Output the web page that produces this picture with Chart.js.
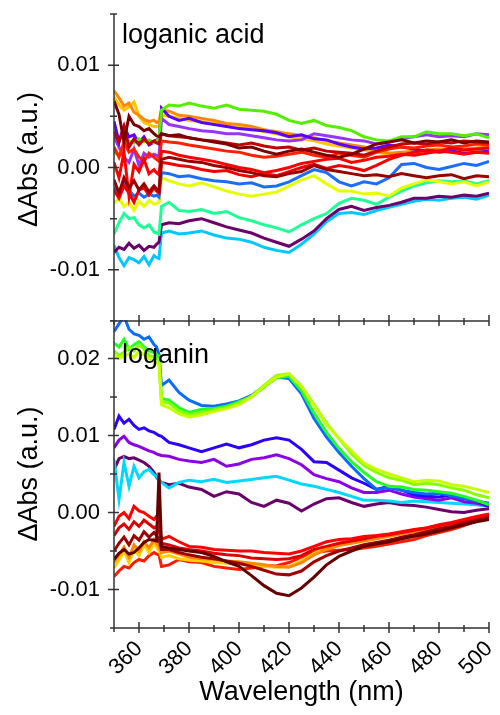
<!DOCTYPE html>
<html>
<head>
<meta charset="utf-8">
<script src="https://cdn.jsdelivr.net/npm/chart.js@4.4.1/dist/chart.umd.min.js"></script>
<style>
  html, body { margin: 0; padding: 0; background: #fff; }
  #wrap { position: relative; width: 500px; height: 715px; }
  #topChart { position: absolute; left: 0; top: 0; }
  #bottomChart { position: absolute; left: 0; top: 320px; }
</style>
</head>
<body>
<div id="wrap">
  <canvas id="bottomChart" width="500" height="395"></canvas>
  <canvas id="topChart" width="500" height="330"></canvas>
</div>
<script>
// wavelength grid (nm); values below are in units of 0.001 (mAbs)
const wavelength = [350,352,354,356,358,360,362,364,366, 367,368,369, 372,376,380,
  385,390,395,400,405,410,415,420,425,430,435,440,445,450,455,460,465,470,475,480,485,490,495,500];

const xTicks = [350,360,370,380,390,400,410,420,430,440,450,460,470,480,490,500];
const xLabels = [360,380,400,420,440,460,480,500];
const yTicksTop = [-15,-10,-5,0,5,10,15];
const yLabelsTop = [-10,0,10];
const yTicksBottom = [-15,-10,-5,0,5,10,15,20,25];
const yLabelsBottom = [-10,0,10,20];

// ---- loganic acid (top panel) ----
const maroonTop = [6.5,5.2,2.5,5.0,4.2,4.0,3.6,3.8,3.3, 3.1,3.0,3.3, 3.1,3.2,2.9,
  2.7,2.5,2.3,1.9,2.0,1.6,1.3,1.6,1.8,1.5,1.2,1.0,1.3,1.8,2.3,2.5,2.7,2.4,2.6,2.5,2.7,2.4,2.6,2.5];
const maroon2Top = [-1.2,-2.5,-1.0,-2.0,-1.3,-2.2,-1.6,-2.4,-1.8, -2.1,-2.3,0.8, 1.0,0.8,0.6,
  0.5,0.2,0.0,-0.3,-0.5,-0.8,-0.9,-0.6,-0.4,0.2,-0.2,-0.4,-0.6,-0.8,-0.7,-0.9,-0.6,-0.8,-1.0,-0.8,-0.7,-1.1,-0.8,-0.9];
const dkredTop = [3.5,2.5,4.0,2.0,2.8,2.2,2.8,2.3,2.6, 2.4,2.3,3.3, 3.1,3.0,2.9,
  2.7,2.6,2.4,2.2,2.4,2.1,1.9,2.0,1.7,1.9,1.6,1.5,1.4,1.2,1.6,2.0,2.3,2.4,2.3,2.5,2.4,2.6,2.5,2.4];
const red1Top = [0.5,-1.0,1.5,-2.8,0.3,-0.4,0.8,-0.6,-0.2, -0.5,-0.7,1.6, 1.5,1.2,1.0,
  0.8,0.6,0.3,0.0,-0.2,-0.5,-0.3,0.0,0.4,0.6,0.8,0.9,0.5,0.7,1.0,1.1,1.3,1.2,1.4,1.6,1.5,1.3,1.5,1.4];
const red2Top = [-2.2,-3.0,-1.8,-2.5,-3.4,-2.2,-2.0,-2.7,-2.0, -2.3,-2.5,0.5, 0.4,0.2,0.1,
  -0.2,-0.4,-0.3,-0.7,-0.9,-0.6,-0.8,-0.4,0.0,0.3,-0.1,0.2,0.0,-0.3,0.2,0.8,1.2,1.5,1.7,1.6,1.9,1.7,1.8,1.9];
const red3Top = [2.0,1.0,2.5,1.5,1.8,1.0,0.6,1.4,1.0, 0.8,0.6,2.6, 2.5,2.4,2.2,
  2.0,1.8,1.6,1.5,1.2,1.0,1.1,1.3,1.5,1.2,1.0,1.4,1.2,1.0,1.5,1.8,2.0,1.9,2.1,2.2,2.0,2.1,2.3,2.2];
const greenTop = [1.5,1.2,2.2,2.6,2.4,2.8,2.5,2.7,2.4, 2.6,2.8,5.6, 6.1,6.0,6.3,
  6.0,5.8,6.1,5.7,5.6,5.5,5.2,4.6,4.3,4.6,4.1,3.9,3.6,3.0,2.7,2.6,3.0,3.0,3.5,3.3,3.3,3.1,3.3,2.9];
const violetTop = [4.5,2.5,4.0,3.0,3.2,2.4,3.0,2.2,2.5, 2.7,2.6,5.8, 5.0,4.6,4.8,
  4.4,4.2,4.0,3.8,3.7,3.6,3.4,3.0,3.2,2.8,2.7,2.3,2.0,1.8,1.9,2.2,2.0,1.8,1.6,1.5,1.6,1.4,1.5,1.6];
const purpleTop = [3.0,2.0,1.0,0.5,1.8,0.2,1.4,1.0,1.3, 1.2,1.0,4.8, 4.2,4.0,3.8,
  3.6,3.5,3.3,3.3,3.1,2.9,2.7,2.6,2.7,3.3,3.1,2.9,2.7,2.6,2.3,2.5,2.8,3.0,3.2,3.0,3.1,3.0,3.3,3.2];
const orangeTop = [7.5,6.8,6.0,6.3,5.4,5.1,4.7,4.5,4.6, 4.4,4.5,5.6, 5.5,5.1,5.0,
  4.8,4.6,4.3,4.2,4.0,3.7,3.5,3.3,3.1,2.9,2.6,2.4,2.2,2.0,1.6,1.4,1.5,1.6,1.7,1.8,1.7,1.8,1.9,2.0];
const goldTop = [6.9,6.1,5.6,5.9,6.4,5.0,4.4,4.2,4.0, 4.0,4.1,5.1, 5.0,4.8,4.6,
  4.5,4.3,4.1,3.9,3.8,3.5,3.3,3.0,2.8,2.6,2.3,2.1,1.9,1.7,1.5,1.3,1.4,1.5,1.5,1.6,1.5,1.7,1.7,1.8];
const blueTop = [-2.0,-2.4,-1.5,-2.2,-2.8,-2.5,-2.9,-2.6,-2.8, -2.7,-2.9,-0.5, -0.6,-0.9,-0.8,
  -1.1,-1.3,-1.4,-1.6,-1.5,-1.9,-1.8,-1.4,-0.8,-0.2,-0.5,-1.4,-1.8,-1.4,-1.6,-1.0,0.3,0.4,0.0,-0.2,0.1,0.4,0.2,0.6];
const yellowTop = [-3.5,-3.0,-3.8,-3.4,-4.2,-3.3,-3.8,-3.2,-3.6, -3.5,-3.4,-1.0, -1.3,-1.6,-1.8,
  -1.5,-1.9,-2.3,-2.6,-2.8,-2.6,-2.4,-1.8,-1.2,-0.8,-1.6,-2.3,-2.3,-2.6,-2.5,-2.8,-2.0,-1.6,-1.2,-1.4,-1.6,-1.4,-1.8,-1.4];
const springTop = [-6.5,-5.4,-4.5,-5.0,-4.9,-5.6,-5.9,-5.6,-6.3, -6.4,-6.5,-3.8, -3.4,-4.2,-4.3,
  -4.1,-4.5,-4.3,-4.9,-5.2,-5.6,-5.9,-6.3,-5.6,-5.0,-4.5,-3.5,-3.0,-3.2,-3.6,-2.9,-2.3,-1.8,-1.5,-1.3,-1.4,-1.3,-1.6,-1.3];
const dkpurpleTop = [-8.3,-7.8,-8.0,-7.4,-7.9,-7.6,-8.1,-7.7,-7.8, -7.5,-7.3,-5.6, -5.4,-5.5,-5.2,
  -5.0,-5.4,-5.8,-6.1,-6.4,-6.9,-7.3,-7.7,-7.0,-6.2,-5.0,-4.1,-3.8,-4.2,-3.9,-3.7,-3.4,-3.0,-3.0,-2.8,-2.9,-2.7,-2.8,-2.5];
const skyTop = [-7.6,-8.8,-9.6,-8.8,-9.0,-9.3,-8.7,-9.5,-8.6, -8.8,-8.9,-6.4, -6.2,-6.5,-6.4,
  -6.2,-6.6,-6.9,-7.0,-7.3,-7.8,-8.1,-8.3,-7.5,-6.5,-5.3,-4.5,-4.4,-4.6,-4.2,-3.9,-3.6,-3.3,-3.1,-3.2,-3.0,-2.9,-3.1,-2.7];

// ---- loganin (bottom panel) ----
const maroonBot = [-6.1,-5.3,-4.8,-5.4,-5.2,-4.6,-3.9,-3.5,-3.6, -3.7,5.2,-4.4, -4.6,-4.8,-5.0,
  -5.2,-5.7,-6.4,-7.0,-8.2,-9.5,-10.5,-10.8,-9.8,-8.4,-6.8,-5.7,-5.0,-4.4,-4.1,-3.8,-3.4,-3.1,-2.8,-2.4,-2.0,-1.6,-1.2,-0.9];
const dkredBot = [-5.0,-4.0,-3.2,-4.2,-3.0,-3.6,-2.5,-3.2,-2.6, -3.0,-3.5,-4.8, -4.8,-5.2,-5.5,
  -5.8,-6.0,-6.3,-6.6,-7.0,-7.5,-8.0,-8.1,-7.6,-6.4,-5.6,-5.0,-4.6,-4.2,-3.9,-3.6,-3.2,-2.9,-2.5,-2.1,-1.8,-1.4,-1.0,-0.6];
const red1Bot = [-1.8,-0.5,0.0,-0.8,0.8,0.2,0.0,-0.5,-0.9, -0.5,-1.0,-3.5, -3.1,-3.8,-4.4,
  -4.5,-4.8,-4.9,-5.0,-5.0,-5.2,-5.3,-5.4,-5.0,-4.4,-3.8,-3.5,-3.4,-3.1,-3.0,-2.8,-2.5,-2.2,-2.0,-1.6,-1.3,-0.9,-0.5,-0.2];
const red2Bot = [-3.0,-2.0,-1.5,-2.2,-1.2,-1.8,-1.0,-1.5,-2.0, -1.8,-2.2,-4.0, -4.2,-4.6,-4.8,
  -5.0,-5.3,-5.5,-5.6,-5.9,-6.0,-6.1,-6.0,-5.6,-4.8,-4.4,-4.0,-3.7,-3.4,-3.1,-2.9,-2.6,-2.3,-2.0,-1.7,-1.4,-1.1,-0.8,-0.4];
const orangeBot = [-6.5,-5.5,-4.5,-5.8,-4.2,-5.0,-3.8,-4.6,-3.5, -4.0,-4.5,-5.2, -5.0,-5.4,-5.8,
  -6.0,-6.1,-6.3,-6.4,-6.6,-6.8,-7.0,-7.1,-6.5,-5.5,-4.8,-4.3,-4.0,-3.7,-3.4,-3.1,-2.8,-2.5,-2.2,-1.9,-1.6,-1.3,-0.9,-0.5];
const yellowBot = [-7.2,-6.2,-5.0,-6.5,-4.8,-5.6,-4.2,-5.2,-4.0, -4.5,-5.0,-5.8, -5.6,-6.0,-6.2,
  -6.3,-6.5,-6.6,-6.7,-6.8,-7.0,-7.1,-7.0,-6.3,-5.3,-4.6,-4.2,-3.9,-3.6,-3.3,-3.0,-2.7,-2.4,-2.1,-1.8,-1.5,-1.2,-0.8,-0.5];
const red7Bot = [-8.3,-7.6,-7.0,-7.2,-6.5,-6.1,-6.3,-5.6,-5.2, -5.4,-5.5,-7.0, -6.8,-6.1,-6.4,
  -6.5,-7.0,-7.2,-7.4,-7.2,-7.0,-6.9,-6.5,-5.8,-5.2,-5.0,-4.9,-4.8,-4.6,-4.4,-4.1,-3.8,-3.5,-3.0,-2.6,-2.2,-1.7,-1.1,-0.5];
const ygBot = [20.5,20.0,20.3,20.6,20.1,21.0,20.5,20.0,19.6, 19.4,19.2,14.0, 13.6,12.8,12.4,
  12.7,13.1,13.5,14.0,15.0,16.4,17.6,18.0,16.3,13.9,11.4,9.6,8.0,6.4,5.6,5.0,4.5,4.0,4.2,4.1,3.6,3.4,3.0,2.6];
const limeBot = [21.0,20.4,20.8,21.5,21.0,21.8,21.2,20.4,20.2, 20.0,19.8,14.4, 14.2,13.2,12.7,
  13.0,13.3,13.6,14.2,15.1,16.5,17.8,18.0,16.4,14.0,11.6,9.6,7.6,6.1,5.2,4.5,4.2,3.6,3.8,3.6,3.2,2.9,2.3,1.9];
const greenBot = [22.0,21.5,22.5,21.2,21.8,22.2,21.5,21.0,20.8, 20.5,20.3,14.8, 14.6,13.6,13.0,
  13.4,13.5,13.8,14.4,15.0,16.3,17.5,17.7,15.8,12.9,10.4,8.3,6.6,5.2,4.0,3.4,3.3,3.0,2.9,2.7,2.5,2.1,1.6,1.0];
const blueBot = [23.5,24.5,25.5,23.8,23.2,23.0,22.5,22.8,21.8, 21.5,20.5,16.5, 17.2,15.6,14.6,
  13.9,13.8,14.1,14.5,15.2,16.4,17.6,17.4,15.4,12.2,9.8,7.8,6.0,4.4,3.0,3.2,2.9,2.6,2.4,2.5,2.2,1.8,1.5,1.2];
const blue2Bot = [10.8,12.5,11.6,12.1,11.3,10.8,11.0,10.6,10.4, 10.2,10.0,9.9, 9.1,8.8,8.4,
  7.9,8.4,8.9,8.4,8.8,9.4,9.7,9.4,8.2,6.6,6.5,5.5,4.5,3.8,3.0,3.4,2.9,2.3,2.1,2.0,2.3,1.8,1.5,0.8];
const purpleBot = [8.4,9.4,9.9,9.1,8.8,8.6,8.3,8.0,7.8, 7.6,7.5,7.4, 7.3,6.9,6.7,
  6.5,6.9,6.0,6.3,6.9,7.1,7.5,7.0,6.2,4.9,4.4,4.0,3.2,2.6,2.6,2.9,2.4,2.0,1.8,1.6,1.9,1.4,1.2,0.8];
const cyanBot = [6.9,1.7,6.5,3.4,6.0,4.5,5.3,5.6,4.9, 4.7,4.3,3.9, 3.2,3.9,4.2,
  4.0,4.3,3.9,4.1,4.3,4.5,4.7,4.2,3.7,3.4,3.0,2.6,2.1,1.6,1.6,1.5,1.3,1.5,1.4,1.3,1.2,1.1,1.0,0.8];
const dkpurpleBot = [5.5,7.0,7.3,7.0,7.1,6.8,6.5,6.0,5.2, 4.6,4.2,3.9, 3.6,3.8,3.3,
  3.0,2.1,2.7,2.4,1.3,0.8,1.6,1.2,0.2,1.1,1.8,1.9,1.3,0.8,1.1,1.3,1.0,0.9,0.7,0.4,0.1,0.0,0.3,0.5];

const FONT = 'Arial, "Liberation Sans", sans-serif';

// first entry is drawn on top
const topSeries = [
  [maroonTop, '#7a0000'], [maroon2Top, '#990000'], [dkredTop, '#c00000'],
  [red1Top, '#ff0000'], [red2Top, '#f00000'], [red3Top, '#ff2000'],
  [greenTop, '#55ee00'], [violetTop, '#5a00ff'], [purpleTop, '#9933ff'],
  [orangeTop, '#ff8800'], [goldTop, '#ffc400'], [blueTop, '#1a6dff'],
  [yellowTop, '#e6ff00'], [springTop, '#1eff96'], [dkpurpleTop, '#6b006b'], [skyTop, '#00c8ff']
];
const bottomSeries = [
  [maroonBot, '#650000'], [dkredBot, '#a00000'], [red1Bot, '#ff0000'], [red2Bot, '#dd0000'],
  [orangeBot, '#ff8800'], [yellowBot, '#ffd000'], [red7Bot, '#ff1a00'],
  [ygBot, '#c8ff00'], [limeBot, '#88ff00'], [greenBot, '#22ff22'], [blueBot, '#0a6cff'],
  [blue2Bot, '#2a00ff'], [purpleBot, '#8c00e8'], [cyanBot, '#00d8ff'], [dkpurpleBot, '#6a006a']
];

function toDatasets(list) {
  return list.map(([vals, color]) => ({
    data: vals.map((v, i) => ({ x: wavelength[i], y: v })),
    borderColor: color,
    borderWidth: 3,
    pointRadius: 0,
    tension: 0,
    fill: false
  }));
}

// axis lines with ticks crossing the axis, the y title and the panel name
const axisPlugin = {
  id: 'axisTicks',
  afterDraw(chart, args, opts) {
    const { ctx, chartArea: a, scales } = chart;
    const x = scales.x, y = scales.y;
    ctx.save();
    ctx.strokeStyle = '#333';
    ctx.lineWidth = 1.5;
    ctx.beginPath();
    ctx.moveTo(a.left, a.top);
    ctx.lineTo(a.left, a.bottom);
    ctx.moveTo(a.left, a.bottom);
    ctx.lineTo(a.right, a.bottom);
    opts.yTicks.forEach(v => {
      const py = y.getPixelForValue(v);
      const major = opts.yLabels.includes(v);
      ctx.moveTo(a.left - (major ? 6 : 4), py);
      ctx.lineTo(a.left + (major ? 5 : 3), py);
    });
    xTicks.forEach(v => {
      const px = x.getPixelForValue(v);
      const major = xLabels.includes(v);
      ctx.moveTo(px, a.bottom - (major ? 6 : 3));
      ctx.lineTo(px, a.bottom + (major ? 5 : 4));
    });
    ctx.stroke();
    ctx.fillStyle = '#000';
    ctx.font = '27px ' + FONT;
    ctx.textBaseline = 'alphabetic';
    ctx.textAlign = 'left';
    ctx.fillText(opts.label, a.left + 8, a.top + opts.labelY);
    // y axis title
    ctx.translate(30, (a.top + a.bottom) / 2 + opts.titleShift);
    ctx.rotate(-Math.PI / 2);
    ctx.textAlign = 'center';
    ctx.textBaseline = 'middle';
    ctx.fillText('ΔAbs (a.u.)', 0, 0);
    ctx.restore();
  }
};

function yScale(min, max, labels) {
  return {
    type: 'linear',
    min: min,
    max: max,
    afterFit: s => { s.width = 114; s.paddingTop = 0; s.paddingBottom = 0; },
    grid: { display: false, drawTicks: false },
    border: { display: false },
    ticks: {
      stepSize: 5,
      autoSkip: false,
      padding: 14,
      color: '#000',
      font: { family: FONT, size: 22 },
      callback: v => labels.includes(v) ? (v / 1000).toFixed(2) : ''
    },
    title: { display: false }
  };
}

new Chart(document.getElementById('topChart'), {
  type: 'line',
  data: { datasets: toDatasets(topSeries) },
  plugins: [axisPlugin],
  options: {
    responsive: false,
    animation: false,
    devicePixelRatio: 1,
    layout: { padding: { top: 14, right: 11, left: 0, bottom: 0 } },
    plugins: {
      legend: { display: false },
      tooltip: { enabled: false },
      axisTicks: { label: 'loganic acid', labelY: 29, titleShift: -8, yTicks: yTicksTop, yLabels: yLabelsTop }
    },
    scales: {
      x: {
        type: 'linear', min: 350, max: 500,
        afterFit: s => { s.height = 9; s.paddingLeft = 0; s.paddingRight = 0; },
        grid: { display: false, drawTicks: false },
        border: { display: false },
        ticks: { display: false }
      },
      y: yScale(-15, 15, yLabelsTop)
    }
  }
});

new Chart(document.getElementById('bottomChart'), {
  type: 'line',
  data: { datasets: toDatasets(bottomSeries) },
  plugins: [axisPlugin],
  options: {
    responsive: false,
    animation: false,
    devicePixelRatio: 1,
    layout: { padding: { top: 0, right: 11, left: 0, bottom: 0 } },
    plugins: {
      legend: { display: false },
      tooltip: { enabled: false },
      axisTicks: { label: 'loganin', labelY: 43, titleShift: 0, yTicks: yTicksBottom, yLabels: yLabelsBottom }
    },
    scales: {
      x: {
        type: 'linear', min: 350, max: 500,
        afterFit: s => { s.height = 87; s.paddingLeft = 0; s.paddingRight = 0; },
        grid: { display: false, drawTicks: false },
        border: { display: false },
        ticks: {
          stepSize: 10,
          autoSkip: false,
          maxRotation: 45,
          minRotation: 45,
          padding: 8,
          color: '#000',
          font: { family: FONT, size: 22 },
          callback: v => xLabels.includes(v) ? String(v) : ''
        },
        title: {
          display: true,
          text: 'Wavelength (nm)',
          color: '#000',
          font: { family: FONT, size: 27 },
          padding: { top: 0, bottom: 6 }
        }
      },
      y: yScale(-15, 25, yLabelsBottom)
    }
  }
});
</script>
</body>
</html>
